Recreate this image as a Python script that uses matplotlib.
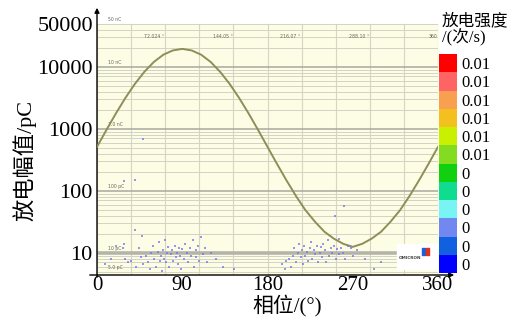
import matplotlib.pyplot as plt
import numpy as np

# 正弦参考曲线 (每10度读一个值, pC)
curve_phase = list(range(0, 361, 10))
curve_pc = [513, 964, 1780, 3160, 5320, 8320, 12000, 15700, 18400, 19500,
            18400, 15700, 12000, 8320, 5320, 3160, 1780, 964, 513,
            273, 148, 83, 49, 32, 22, 17, 14, 12.5,
            14, 17, 22, 32, 49, 83, 148, 273, 513]

# 放电点 (相位, pC)
pd_phase = [8, 15, 20, 27, 28, 30, 33, 36, 40, 41, 44, 46, 48, 49, 52, 54, 56, 57,
            59, 60, 62, 64, 65, 66, 68, 69, 70, 71, 72, 73, 74, 75, 76, 78, 79, 80,
            82, 83, 84, 85, 87, 88, 89, 90, 92, 93, 95, 96, 98, 99, 101, 102, 104,
            105, 107, 108, 110, 112, 114, 116, 120, 126, 133, 145,
            49, 28, 40,
            195, 198, 200, 203, 205, 207, 208, 210, 212, 213, 215, 216, 218, 219,
            220, 222, 223, 225, 226, 227, 229, 230, 232, 233, 235, 236, 238, 239,
            241, 242, 244, 245, 247, 248, 250, 251, 252, 253, 255, 256, 258, 260,
            261, 262, 265, 268, 270, 275, 283, 292, 300]
pd_pc = [6.5, 8, 13, 12, 14, 8, 7, 7.5, 23, 6, 12, 8.5, 19, 6.5, 9, 7, 5.5, 10,
         13, 8, 6, 10.5, 15, 7.5, 9, 5.2, 11, 8, 16, 7, 10, 12.5, 6, 9.5, 11, 7.5,
         13, 8.5, 10, 6.5, 12, 9, 5.5, 11.5, 8, 14, 10, 7, 12, 9, 16, 6, 11,
         8.5, 13, 7.5, 18, 9.5, 12, 7, 10, 8, 6, 5.5,
         690, 146, 150,
         6.5, 5.5, 7.5, 8, 6, 9, 12, 7, 10, 14, 8.5, 11, 6.5, 13,
         9, 10.5, 7.5, 12, 15, 8, 11, 9.5, 13, 7, 10, 12.5, 8.5, 14,
         11, 7, 16, 9, 12, 10, 13, 40, 8, 11.5, 17, 9.5, 12, 10,
         58, 8, 13, 12, 9, 11, 8, 5.5, 7]

# 色标
cb_colors = ['#0000ff', '#1060e0', '#7088f0', '#78f4f4', '#10dc90', '#10d010',
             '#84dc20', '#c8f000', '#f4c020', '#f8a050', '#ff6464', '#ff0000']
cb_labels = ['0', '0', '0', '0', '0', '0', '0.01', '0.01', '0.01', '0.01', '0.01', '0.01']

x_ticks = [0, 90, 180, 270, 360]
y_ticks = [10, 100, 1000, 10000, 50000]
y_ticklabels = ['10', '100', '1000', '10000', '50000']

fonts = ['Liberation Serif', 'Noto Sans CJK SC']
plt.rcParams['font.family'] = fonts

W, H = 511, 321
fig = plt.figure(figsize=(W / 100, H / 100), dpi=100)
ax = fig.add_axes([97 / W, 1 - 275 / H, (438 - 97) / W, (275 - 8) / H])
ax.set_yscale('log')
ax.set_xlim(0, 360)
ax.set_ylim(4.4, 89000)

# 内部截图的背景和网格
ax.fill_between([0, 360], 4.4, 50000, color='#fdfde6', zorder=0)
for v in np.arange(0, 361, 36):
    ax.plot([v, v], [4.4, 50000], color='#d6d6c2', lw=0.8, zorder=1)
for dec in [1, 10, 100, 1000, 10000]:
    for k in range(1, 10):
        val = k * dec
        if val < 4.4 or val > 50000:
            continue
        if k == 1:
            c, w = ('#b4b4aa', 2.6) if dec == 10 else ('#a8a8a0', 1.1)
        else:
            c, w = '#d2d2c6', 0.7
        ax.plot([0, 360], [val, val], color=c, lw=w, zorder=1)

# 内部小字
inner = [(50000, '50 nC'), (10000, '10 nC'), (1000, '1.0 nC'), (100, '100 pC'),
         (10, '10 pC'), (5, '5.0 pC')]
for val, txt in inner:
    ax.text(12, val * 1.07, txt, fontsize=3.3, color='#666655', family='DejaVu Sans',
            va='bottom', zorder=3)
for v, txt in zip([72.024, 144.05, 216.07, 288.10], ['72.024 °', '144.05 °', '216.07 °', '288.10 °']):
    ax.text(v - 1, 31000, txt, fontsize=3.3, color='#666655', family='DejaVu Sans',
            ha='right', va='center', zorder=3)
ax.text(359, 31000, '360', fontsize=3.3, color='#666655', family='DejaVu Sans',
        ha='right', va='center', zorder=3)

# OMICRON 标志
ax.fill_between([317, 359], 5.6, 14, color='white', zorder=2)
ax.text(319, 8.2, 'OMICRON', fontsize=3.0, color='#444444', family='DejaVu Sans',
        fontweight='bold', va='center', zorder=3)
ax.fill_between([343, 346.5], 9.2, 12.2, color='#2060d0', zorder=3)
ax.fill_between([347, 351], 9.2, 12.2, color='#e03020', zorder=3)

ax.plot(curve_phase, curve_pc, color='#8e8e58', lw=1.4, zorder=4)
ax.scatter(pd_phase, pd_pc, s=2.2, marker='s', color='#7474f0', alpha=0.75,
           linewidths=0, zorder=5)

for s in ax.spines.values():
    s.set_visible(False)
ax.set_xticks(x_ticks)
ax.set_xticklabels([str(v) for v in x_ticks], fontsize=15)
ax.set_yticks(y_ticks)
ax.set_yticklabels(y_ticklabels, fontsize=16)
ax.minorticks_off()
ax.tick_params(length=0, pad=3)
ax.tick_params(axis='x', pad=1)

# 坐标轴箭头
ax.annotate('', xy=(457 / W, 1 - 275 / H), xytext=(87 / W, 1 - 275 / H),
            xycoords='figure fraction', textcoords='figure fraction',
            arrowprops=dict(arrowstyle='-|>', color='black', lw=1.0, mutation_scale=7))
ax.annotate('', xy=(97 / W, 1 - 5 / H), xytext=(97 / W, 1 - 280 / H),
            xycoords='figure fraction', textcoords='figure fraction',
            arrowprops=dict(arrowstyle='-|>', color='black', lw=1.0, mutation_scale=7))

fig.text(287 / W, 1 - 305 / H, '相位/(°)', fontsize=15, ha='center', va='center')
fig.text(25 / W, 1 - 160 / H, '放电幅值/pC', fontsize=16, rotation=90,
         ha='center', va='center')

# 色标
cax = fig.add_axes([439 / W, 1 - 273 / H, 18 / W, (273 - 54) / H])
cax.bar(np.zeros(12), np.ones(12), bottom=np.arange(12), width=1, color=cb_colors,
        align='center')
cax.set_xlim(-0.5, 0.5)
cax.set_ylim(0, 12)
cax.set_xticks([])
cax.yaxis.tick_right()
cax.set_yticks(np.arange(12) + 0.5)
cax.set_yticklabels(cb_labels, fontsize=12)
cax.tick_params(length=0, pad=3)
for s in cax.spines.values():
    s.set_visible(False)
fig.text(442 / W, 1 - 21 / H, '放电强度', fontsize=12, ha='left', va='center')
fig.text(442 / W, 1 - 38 / H, '/(次/s)', fontsize=12, ha='left', va='center')

fig.savefig('out.png', dpi=100)
